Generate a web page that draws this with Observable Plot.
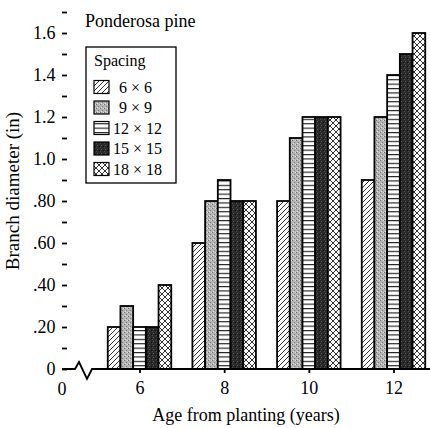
<!DOCTYPE html>
<html><head><meta charset="utf-8">
<script src="https://cdn.jsdelivr.net/npm/d3@7"></script>
<script src="https://cdn.jsdelivr.net/npm/@observablehq/plot@0.6"></script>
<style>body{margin:0;background:#fff}</style>
</head><body><div id="chart"></div>
<script>
// ---- data ----
const ages = [6, 8, 10, 12];
const spacings = ["6 × 6", "9 × 9", "12 × 12", "15 × 15", "18 × 18"];
const spacing6 = [0.2, 0.6, 0.8, 0.9];
const spacing9 = [0.3, 0.8, 1.1, 1.2];
const spacing12 = [0.2, 0.9, 1.2, 1.4];
const spacing15 = [0.2, 0.8, 1.2, 1.5];
const spacing18 = [0.4, 0.8, 1.2, 1.6];
const yTicks = [0, 0.1, 0.2, 0.3, 0.4, 0.5, 0.6, 0.7, 0.8, 0.9, 1.0, 1.1, 1.2, 1.3, 1.4, 1.5, 1.6, 1.7];
const yTickLabels = ["0", "", ".20", "", ".40", "", ".60", "", ".80", "", "1.0", "", "1.2", "", "1.4", "", "1.6", ""];
const xTicks = [6, 8, 10, 12];
const title = "Ponderosa pine";
const legendTitle = "Spacing";
const xLabel = "Age from planting (years)";
const yLabel = "Branch diameter (in)";

const series = [spacing6, spacing9, spacing12, spacing15, spacing18];
const rows = [];
spacings.forEach((s, si) => ages.forEach((a, ai) => rows.push({age: a, spacing: s, idx: si, value: series[si][ai]})));

const patternIds = ["p6", "p9", "p12", "p15", "p18"];
const barW = 0.3, groupW = barW * spacings.length;
const FONT = "'Liberation Serif', 'Times New Roman', Times, serif";

const svg = Plot.plot({
  width: 430, height: 428,
  marginLeft: 62, marginRight: 0, marginTop: 12, marginBottom: 59,
  style: {fontFamily: FONT, fontSize: "18px", background: "#fff", color: "#000"},
  x: {domain: [6, 12], range: [139.5, 393.5]},
  y: {domain: [0, 1.7]},
  color: {type: "ordinal", domain: spacings, range: patternIds.map(id => `url(#${id})`)},
  marks: [
    Plot.rectY(rows, {
      x1: d => d.age - groupW / 2 + d.idx * barW,
      x2: d => d.age - groupW / 2 + (d.idx + 1) * barW,
      y: "value", fill: "spacing", stroke: "#000", strokeWidth: 1.8
    }),
    Plot.axisY({ticks: yTicks, tickFormat: d => yTickLabels[yTicks.findIndex(t => Math.abs(t - d) < 1e-9)],
      tickSize: -5, tickPadding: 12, strokeWidth: 1.8, line: true, label: null, fontSize: 18}),
    Plot.axisX({ticks: xTicks, tickFormat: d => String(d), tickSize: 4, tickPadding: 8, strokeWidth: 1.8,
      label: null, fontSize: 18})
  ]
});
document.getElementById("chart").appendChild(svg);

// ---- patterns ----
const root = d3.select(svg);
const defs = root.insert("defs", ":first-child");
function pat(id, w, h) {
  return defs.append("pattern").attr("id", id).attr("patternUnits", "userSpaceOnUse").attr("width", w).attr("height", h);
}
let p = pat("p6", 5, 5);
p.append("rect").attr("width", 5).attr("height", 5).attr("fill", "#fff");
p.append("path").attr("d", "M0,5L5,0M-1,1L1,-1M4,6L6,4").attr("stroke", "#000").attr("stroke-width", 0.8);
p = pat("p9", 4, 4);
p.append("rect").attr("width", 4).attr("height", 4).attr("fill", "#b4b4b4");
p.append("rect").attr("x", 0).attr("y", 0).attr("width", 1).attr("height", 1).attr("fill", "#6e6e6e");
p.append("rect").attr("x", 2).attr("y", 2).attr("width", 1).attr("height", 1).attr("fill", "#808080");
p.append("rect").attr("x", 3).attr("y", 0).attr("width", 1).attr("height", 1).attr("fill", "#dcdcdc");
p.append("rect").attr("x", 1).attr("y", 3).attr("width", 1).attr("height", 1).attr("fill", "#e0e0e0");
p = pat("p12", 10, 4.4);
p.append("rect").attr("width", 10).attr("height", 4.4).attr("fill", "#fff");
p.append("path").attr("d", "M0,0.6H10").attr("stroke", "#000").attr("stroke-width", 1);
p = pat("p15", 4, 4);
p.append("rect").attr("width", 4).attr("height", 4).attr("fill", "#2a2a2a");
p.append("rect").attr("x", 1).attr("y", 1).attr("width", 1).attr("height", 1).attr("fill", "#5c5c5c");
p.append("rect").attr("x", 3).attr("y", 2).attr("width", 1).attr("height", 1).attr("fill", "#111");
p.append("rect").attr("x", 0).attr("y", 3).attr("width", 1).attr("height", 1).attr("fill", "#4a4a4a");
p = pat("p18", 6, 6);
p.append("rect").attr("width", 6).attr("height", 6).attr("fill", "#fff");
p.append("path").attr("d", "M0,6L6,0M0,0L6,6M-1,1L1,-1M5,7L7,5M-1,5L1,7M5,-1L7,1").attr("stroke", "#000").attr("stroke-width", 0.8);

// ---- x axis baseline with break, "0" label ----
const y0 = svg.scale("y").apply(0);
const L = 62;
root.append("path")
  .attr("d", `M${L},${y0}H${L + 13}L${L + 17},${y0 - 7}L${L + 25},${y0 + 10}L${L + 30},${y0}H430`)
  .attr("fill", "none").attr("stroke", "#000").attr("stroke-width", 1.8);
const deco = root.append("g").attr("font-family", FONT).attr("font-size", 18).attr("fill", "#000");
deco.append("text").attr("x", L).attr("y", y0 + 26).attr("text-anchor", "middle").text("0");

// ---- axis labels and title ----
deco.append("text").attr("x", 246).attr("y", 421).attr("text-anchor", "middle").text(xLabel);
deco.append("text").attr("transform", "translate(19,191) rotate(-90)").attr("text-anchor", "middle")
  .attr("font-size", 19).text(yLabel);
deco.append("text").attr("x", 85).attr("y", 27).attr("text-anchor", "start").text(title);

// ---- legend ----
const lg = root.append("g").attr("font-family", FONT).attr("font-size", 16).attr("text-anchor", "start").attr("fill", "#000");
lg.append("rect").attr("x", 86).attr("y", 47).attr("width", 90).attr("height", 136)
  .attr("fill", "#fff").attr("stroke", "#000").attr("stroke-width", 1.3);
lg.append("text").attr("x", 94).attr("y", 66).text(legendTitle);
spacings.forEach((s, i) => {
  const cy = 87 + i * 20.5;
  lg.append("rect").attr("x", 94).attr("y", cy - 6.5).attr("width", 15).attr("height", 13)
    .attr("fill", `url(#${patternIds[i]})`).attr("stroke", "#000").attr("stroke-width", 1.2);
  lg.append("text").attr("x", s.length < 6 ? 119 : 113).attr("y", cy + 5.5).text(s);
});
</script>
</body></html>
